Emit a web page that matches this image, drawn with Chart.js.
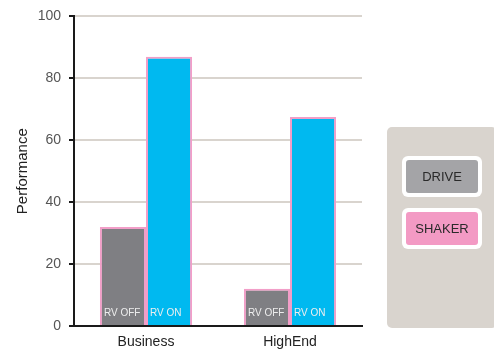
<!DOCTYPE html>
<html>
<head>
<meta charset="utf-8">
<script src="https://cdn.jsdelivr.net/npm/chart.js@4"></script>
<style>
  html, body { margin: 0; padding: 0; background: #fff; }
  #wrap { width: 494px; height: 351px; position: relative; }
</style>
</head>
<body>
<div id="wrap"><canvas id="myChart" width="494" height="351"></canvas></div>
<script>
var categories = ['Business', 'HighEnd'];
var rvOff = [32, 12];
var rvOn = [87, 67.5];
var seriesNames = ['RV OFF', 'RV ON'];
var legendLabels = ['DRIVE', 'SHAKER'];
var legendColors = ['#a4a4a7', '#f39ac4'];

// etiquetas dentro de las barras, abajo a la izquierda
var barTextPlugin = {
    id: 'barText',
    afterDatasetsDraw: function(chart) {
        var ctx = chart.ctx;
        ctx.save();
        ctx.font = '10px "Liberation Sans", Arial, sans-serif';
        ctx.fillStyle = '#eeeeee';
        ctx.textBaseline = 'alphabetic';
        chart.data.datasets.forEach(function(ds, i) {
            chart.getDatasetMeta(i).data.forEach(function(bar) {
                var left = bar.x - bar.width / 2;
                ctx.fillText(seriesNames[i], left + 4, bar.base - 9);
            });
        });
        ctx.restore();
    }
};

// panel de leyenda a la derecha
var legendPanelPlugin = {
    id: 'legendPanel',
    afterDraw: function(chart) {
        var ctx = chart.ctx;
        ctx.save();
        ctx.fillStyle = '#d9d4ce';
        ctx.beginPath();
        ctx.roundRect(387, 127, 110, 201, 5);
        ctx.fill();
        legendLabels.forEach(function(label, i) {
            var y = 156 + i * 52;
            ctx.fillStyle = '#ffffff';
            ctx.beginPath();
            ctx.roundRect(402, y, 80, 41, 6);
            ctx.fill();
            ctx.fillStyle = legendColors[i];
            ctx.beginPath();
            ctx.roundRect(406, y + 4, 72, 33, 3);
            ctx.fill();
            ctx.fillStyle = '#2a2a2a';
            ctx.font = '13px "Liberation Sans", Arial, sans-serif';
            ctx.textAlign = 'center';
            ctx.textBaseline = 'middle';
            ctx.fillText(label, 442, y + 21);
        });
        ctx.restore();
    }
};

var ctx = document.getElementById('myChart').getContext('2d');
var chart = new Chart(ctx, {
    type: 'bar',
    data: {
        labels: categories,
        datasets: [{
            label: seriesNames[0],
            data: rvOff,
            backgroundColor: '#7f7f83',
            borderColor: '#f29ec8',
            borderWidth: 2,
            borderSkipped: 'bottom'
        }, {
            label: seriesNames[1],
            data: rvOn,
            backgroundColor: '#00b9f0',
            borderColor: '#f29ec8',
            borderWidth: 2,
            borderSkipped: 'bottom'
        }]
    },
    options: {
        responsive: false,
        animation: false,
        layout: { padding: { top: 4, right: 132, bottom: 0, left: 0 } },
        plugins: {
            legend: { display: false },
            tooltip: { enabled: false }
        },
        datasets: {
            bar: { categoryPercentage: 0.64, barPercentage: 1 }
        },
        scales: {
            x: {
                afterFit: function(scale) { scale.height = 25; },
                grid: { display: false, drawTicks: false },
                border: { color: '#1a1a1a', width: 2 },
                ticks: {
                    color: '#222',
                    padding: 8,
                    font: { family: '"Liberation Sans", Arial, sans-serif', size: 14 }
                }
            },
            y: {
                min: 0,
                max: 100,
                afterFit: function(scale) { scale.width = 74; },
                ticks: {
                    stepSize: 20,
                    color: '#555',
                    padding: 8,
                    font: { family: '"Liberation Sans", Arial, sans-serif', size: 14 }
                },
                grid: {
                    color: function(c) { return c.tick.value === 0 ? 'rgba(0,0,0,0)' : '#d9d4ce'; },
                    lineWidth: 2,
                    tickColor: '#1a1a1a',
                    tickLength: 5
                },
                border: { color: '#1a1a1a', width: 2 },
                title: {
                    display: true,
                    text: 'Performance',
                    color: '#222',
                    padding: { top: 14, bottom: 4 },
                    font: { family: '"Liberation Sans", Arial, sans-serif', size: 15 }
                }
            }
        }
    },
    plugins: [barTextPlugin, legendPanelPlugin]
});
</script>
</body>
</html>
